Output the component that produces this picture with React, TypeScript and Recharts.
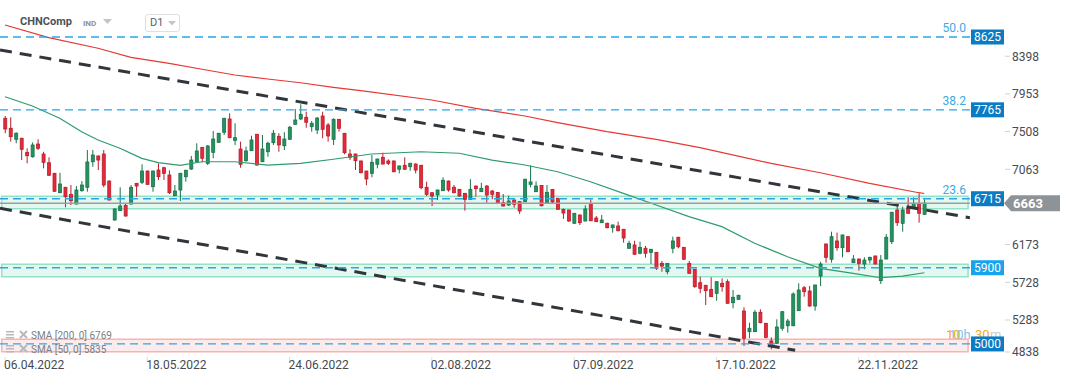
import React from "react";
import {
  ComposedChart,
  Bar,
  Line,
  XAxis,
  YAxis,
  ReferenceLine,
  ReferenceArea,
} from "recharts";

const W = 1072;
const H = 382;

const GREEN = "#25935f";
const GREEN_EDGE = "#17724a";
const RED = "#e52b3a";
const RED_EDGE = "#b81d2b";
const SMA200_COLOR = "#e53935";
const SMA50_COLOR = "#2e9c6c";
const FIB_BLUE = "#2aa7e8";
const TAG_DARK = "#0b7cc4";
const TAG_LIGHT = "#18a4ec";

// o, h, l, c per daily bar
const ohlc: [number, number, number, number][] = [
  [7665, 7692, 7488, 7538], [7547, 7677, 7389, 7448], [7417, 7500, 7370, 7488], [7429, 7435, 7172, 7299],
  [7263, 7311, 7133, 7223], [7211, 7381, 7200, 7350], [7361, 7417, 7290, 7311], [7243, 7270, 7074, 7145],
  [7140, 7204, 6985, 6992], [7015, 7020, 6795, 6803], [6786, 7022, 6780, 6889], [6850, 6855, 6614, 6739],
  [6767, 6877, 6641, 6692], [6653, 6865, 6645, 6818], [6810, 6924, 6798, 6877], [6850, 7290, 6798, 7149],
  [7152, 7290, 7093, 7231], [7220, 7225, 7054, 7172], [7243, 7290, 6850, 6877], [6924, 6930, 6695, 6700],
  [6464, 6600, 6455, 6594], [6574, 6850, 6570, 6629], [6637, 6653, 6503, 6511], [6653, 6877, 6645, 6850],
  [6897, 6900, 6739, 6865], [6909, 7122, 6889, 7042], [7042, 7048, 6880, 6885], [6857, 7048, 6798, 7042],
  [7054, 7133, 6936, 6975], [7081, 7093, 6936, 7015], [6995, 7051, 6771, 6786], [6751, 6877, 6745, 6806],
  [6818, 7020, 6688, 7015], [6975, 7056, 6916, 7051], [7066, 7220, 7054, 7172], [7152, 7370, 7150, 7279],
  [7322, 7325, 7145, 7193], [7133, 7350, 7113, 7338], [7263, 7515, 7193, 7420], [7381, 7492, 7378, 7488],
  [7500, 7670, 7468, 7665], [7657, 7724, 7429, 7436], [7405, 7606, 7350, 7436], [7302, 7389, 7081, 7122],
  [7164, 7330, 7152, 7279], [7282, 7459, 7279, 7409], [7476, 7480, 7105, 7113], [7152, 7468, 7150, 7302],
  [7270, 7389, 7211, 7370], [7377, 7527, 7350, 7488], [7452, 7488, 7270, 7350], [7341, 7500, 7290, 7420],
  [7417, 7574, 7410, 7559], [7594, 7775, 7590, 7645], [7657, 7830, 7645, 7712], [7677, 7743, 7554, 7618],
  [7566, 7633, 7507, 7606], [7527, 7680, 7479, 7668], [7692, 7743, 7429, 7535], [7586, 7609, 7389, 7456],
  [7417, 7665, 7350, 7653], [7653, 7657, 7507, 7547], [7488, 7490, 7240, 7259], [7243, 7299, 7172, 7204],
  [7243, 7248, 7054, 7164], [7161, 7165, 7015, 7022], [7042, 7045, 6874, 6948], [7015, 7231, 6968, 7145],
  [7122, 7188, 7074, 7184], [7204, 7259, 7120, 7125], [7161, 7181, 7113, 7133], [7161, 7165, 7027, 7034],
  [7063, 7106, 7015, 7102], [7110, 7204, 7060, 7063], [7093, 7140, 7046, 7133], [7125, 7133, 7015, 7054],
  [7110, 7115, 6826, 6845], [6850, 6916, 6747, 6767], [6786, 6790, 6629, 6747], [6759, 6822, 6700, 6818],
  [6810, 6968, 6805, 6933], [6924, 6930, 6798, 6818], [6850, 6877, 6779, 6786], [6826, 6830, 6739, 6747],
  [6779, 6783, 6574, 6708], [6708, 6945, 6700, 6826], [6865, 6870, 6739, 6834], [6798, 6904, 6795, 6838],
  [6865, 6877, 6668, 6759], [6806, 6818, 6708, 6767], [6789, 6795, 6653, 6661], [6668, 6771, 6625, 6629],
  [6641, 6753, 6629, 6688], [6700, 6708, 6609, 6650], [6680, 6685, 6535, 6570], [6680, 6950, 6675, 6945],
  [6885, 7110, 6850, 6913], [6798, 6919, 6795, 6865], [6871, 6877, 6625, 6632], [6668, 6877, 6660, 6791],
  [6824, 6826, 6653, 6676], [6720, 6725, 6585, 6590], [6588, 6600, 6476, 6546], [6582, 6585, 6440, 6452],
  [6425, 6547, 6420, 6543], [6523, 6527, 6405, 6432], [6452, 6637, 6448, 6594], [6659, 6708, 6450, 6455],
  [6487, 6511, 6440, 6444], [6432, 6523, 6428, 6464], [6425, 6432, 6366, 6373], [6373, 6410, 6314, 6405],
  [6393, 6444, 6330, 6337], [6354, 6358, 6196, 6251], [6130, 6219, 6125, 6189], [6169, 6219, 6055, 6059],
  [6071, 6208, 6059, 6141], [6130, 6157, 6019, 6071], [6082, 6122, 5944, 6118], [6082, 6086, 5873, 5893],
  [5952, 5980, 5853, 5920], [5853, 5956, 5822, 5952], [6130, 6267, 6071, 6216], [6260, 6265, 6130, 6148],
  [6141, 6145, 5995, 6000], [5952, 5980, 5830, 5834], [5882, 5886, 5664, 5676], [5723, 5794, 5598, 5657],
  [5693, 5697, 5460, 5629], [5645, 5787, 5555, 5558], [5598, 5740, 5511, 5735], [5716, 5775, 5617, 5676],
  [5735, 5763, 5475, 5480], [5487, 5637, 5421, 5551], [5527, 5580, 5520, 5575], [5389, 5433, 4976, 5067],
  [5145, 5251, 5067, 5185], [5145, 5401, 5140, 5374], [5374, 5409, 5245, 5251], [5244, 5248, 5067, 5078],
  [5035, 5078, 4937, 4976], [5008, 5291, 5000, 5200], [5185, 5385, 5156, 5381], [5215, 5295, 5133, 5271],
  [5215, 5610, 5210, 5590], [5393, 5716, 5390, 5637], [5664, 5684, 5558, 5617], [5625, 5684, 5440, 5448],
  [5448, 5700, 5393, 5696], [5802, 5971, 5684, 5944], [6180, 6185, 5960, 6023], [6000, 6326, 5960, 6267],
  [6216, 6314, 6101, 6137], [6137, 6290, 6023, 6287], [6267, 6272, 6085, 6089], [5960, 6050, 5955, 6003],
  [6003, 6008, 5865, 5952], [5944, 6023, 5882, 5991], [5991, 6030, 5952, 6023], [6039, 6042, 5940, 5944],
  [5747, 6050, 5708, 5991], [6003, 6298, 6000, 6260], [6208, 6560, 6180, 6555], [6582, 6629, 6393, 6432],
  [6425, 6621, 6326, 6582], [6602, 6732, 6540, 6543], [6614, 6732, 6610, 6661], [6661, 6779, 6432, 6543],
  [6531, 6708, 6525, 6663],
];

// moving averages read at some bars: [bar index, value]
const sma200: [number, number][] = [
  [0, 8767], [8, 8617], [17, 8492], [23, 8385], [30, 8314], [36, 8244], [42, 8176], [48, 8129],
  [54, 8085], [60, 8031], [65, 7991], [78, 7881], [86, 7783], [95, 7692], [101, 7613], [110, 7507],
  [119, 7417], [127, 7318], [140, 7133], [149, 7022], [158, 6897], [167, 6786], [168, 6777],
];
const sma50: [number, number][] = [
  [0, 7920], [5, 7810], [10, 7665], [14, 7507], [17, 7409], [21, 7311], [25, 7192], [28, 7141],
  [32, 7110], [36, 7152], [42, 7152], [48, 7113], [54, 7133], [60, 7181], [67, 7243], [76, 7270],
  [83, 7252], [89, 7172], [95, 7113], [101, 7034], [107, 6916], [113, 6779], [119, 6641], [125, 6503],
  [131, 6385], [137, 6189], [143, 6030], [149, 5893], [155, 5834], [160, 5782], [164, 5802], [168, 5841],
];

const xTickBars = [0, 26, 52, 78, 104, 130, 156];
const xTickLabels = ["06.04.2022", "18.05.2022", "24.06.2022", "02.08.2022", "07.09.2022", "17.10.2022", "22.11.2022"];
const yTicks = [4838, 5283, 5728, 6173, 7063, 7508, 7953, 8398];

const levels = [
  { value: 8625, tag: "8625", fib: "50.0", color: TAG_DARK },
  { value: 7765, tag: "7765", fib: "38.2", color: TAG_DARK },
  { value: 6715, tag: "6715", fib: "23.6", color: TAG_DARK },
  { value: 5900, tag: "5900", fib: "", color: TAG_LIGHT },
  { value: 5000, tag: "5000", fib: "", color: TAG_DARK },
];
const zones = [
  { from: 6597, to: 6745, kind: "green" },
  { from: 5795, to: 5941, kind: "green" },
  { from: 4908, to: 5055, kind: "red" },
];
// channel lines, [bar index, value] end points
const channelUpper: [number, number][] = [[-0.914, 8471], [176.35, 6491]];
const channelLower: [number, number][] = [[-0.914, 6602], [144.4, 4925]];
const lastPrice = 6663;

const X_DOMAIN: [number, number] = [-0.914, 176.35];
const Y_DOMAIN: [number, number] = [4834, 9003];

type Row = {
  i: number;
  o: number;
  h: number;
  l: number;
  c: number;
  range: [number, number];
  sma200?: number;
  sma50?: number;
};

const rows: Row[] = ohlc.map(([o, h, l, c], i) => ({ i, o, h, l, c, range: [l, h] }));
sma200.forEach(([i, v]) => (rows[i].sma200 = v));
sma50.forEach(([i, v]) => (rows[i].sma50 = v));

function Candle(props: any) {
  const { x, y, width, height, payload } = props;
  if (!payload || height == null) return null;
  const { o, h, l, c } = payload as Row;
  const up = c >= o;
  const k = h === l ? 0 : height / (h - l);
  const yO = y + (h - o) * k;
  const yC = y + (h - c) * k;
  const top = Math.min(yO, yC);
  const bh = Math.max(1, Math.abs(yO - yC));
  const cx = x + width / 2;
  return (
    <g>
      <line x1={cx} x2={cx} y1={y} y2={y + height} stroke={up ? GREEN_EDGE : RED_EDGE} strokeWidth={1} />
      <rect
        x={x + 0.5}
        y={top}
        width={width - 1}
        height={bh}
        fill={up ? GREEN : RED}
        stroke={up ? GREEN_EDGE : RED_EDGE}
        strokeWidth={0.8}
      />
    </g>
  );
}

function XTick({ x, payload }: any) {
  const idx = xTickBars.indexOf(payload.value);
  return (
    <g>
      <line x1={x} x2={x} y1={357} y2={361} stroke="#dcdcdc" />
      <text x={x - 1} y={369} fontSize={12} fill="#444a50" fontFamily="Roboto">
        {xTickLabels[idx]}
      </text>
    </g>
  );
}

function YTick({ y, payload }: any) {
  const ty = Math.min(y, 352);
  return (
    <g>
      <line x1={1005} x2={1010} y1={ty} y2={ty} stroke="#cfd2d6" />
      <text x={1012} y={ty + 4.3} fontSize={12} fill="#474c52" fontFamily="Roboto">
        {payload.value}
      </text>
    </g>
  );
}

function LevelTag({ viewBox, tag, fib, color }: any) {
  if (!viewBox) return null;
  const { x, y, width } = viewBox;
  const bx = x + width + 1;
  return (
    <g>
      {fib ? (
        <text x={x + width - 4} y={y - 5} textAnchor="end" fontSize={12} fill="#3aa9e4" fontFamily="Roboto">
          {fib}
        </text>
      ) : null}
      <rect x={bx} y={y - 7.5} width={33} height={15} fill={color} />
      <text x={bx + 16.5} y={y + 4.4} textAnchor="middle" fontSize={12} fill="#ffffff" fontFamily="Roboto">
        {tag}
      </text>
    </g>
  );
}

function PriceTag({ viewBox }: any) {
  if (!viewBox) return null;
  const { y } = viewBox;
  return (
    <g>
      <path d={`M1004 ${y} L1011 ${y - 8} L1060 ${y - 8} L1060 ${y + 8} L1011 ${y + 8} Z`} fill="#8d9396" />
      <text x={1013} y={y + 4.6} fontSize={13} fontWeight={700} fill="#ffffff" fontFamily="Roboto">
        {lastPrice}
      </text>
    </g>
  );
}

function Header() {
  return (
    <div style={{ position: "absolute", left: 0, top: 0, width: W, height: H, fontFamily: "Roboto", pointerEvents: "none", zIndex: 2 }}>
      <span style={{ position: "absolute", left: 20, top: 15, fontSize: 11, fontWeight: 700, color: "#4b5259" }}>CHNComp</span>
      <span style={{ position: "absolute", left: 83, top: 19, fontSize: 8, fontWeight: 700, color: "#8a9199" }}>IND</span>
      <svg style={{ position: "absolute", left: 103, top: 19 }} width={9} height={6}>
        <path d="M0 0 L9 0 L4.5 5 Z" fill="#c2c6ca" />
      </svg>
      <div
        style={{
          position: "absolute",
          left: 145,
          top: 14,
          width: 33,
          height: 16,
          border: "1px solid #dde0e3",
          borderRadius: 3,
          background: "#fff",
        }}
      >
        <span style={{ position: "absolute", left: 4, top: 1, fontSize: 11, color: "#5a6068" }}>D1</span>
        <svg style={{ position: "absolute", left: 22, top: 6 }} width={8} height={5}>
          <path d="M0 0 L8 0 L4 4.5 Z" fill="#c2c6ca" />
        </svg>
      </div>
      {[
        { text: "SMA [200,  0] 6769", top: 329 },
        { text: "SMA [50,  0] 5835", top: 343 },
      ].map((s) => (
        <div key={s.text} style={{ position: "absolute", left: 6, top: s.top, height: 12, display: "flex", alignItems: "center" }}>
          <svg width={24} height={10}>
            <rect x={0} y={1} width={8} height={1.5} fill="#b5b9bd" />
            <rect x={0} y={4} width={8} height={1.5} fill="#b5b9bd" />
            <rect x={0} y={7} width={8} height={1.5} fill="#b5b9bd" />
            <path d="M14 1 L21 8 M21 1 L14 8" stroke="#b5b9bd" strokeWidth={2} />
          </svg>
          <span style={{ marginLeft: 1, fontSize: 10, color: "#7a7f85" }}>{s.text}</span>
        </div>
      ))}
    </div>
  );
}

function Countdown() {
  return (
    <div style={{ position: "absolute", left: 0, top: 0, width: W, height: H, fontFamily: "Roboto", zIndex: 0 }}>
      <span style={{ position: "absolute", left: 946, top: 327, fontSize: 13, color: "#f5a623" }}>10</span>
      <span style={{ position: "absolute", left: 949, top: 327, fontSize: 13, color: "#7cc4ef" }}>10h</span>
      <span style={{ position: "absolute", left: 975, top: 327, fontSize: 13, color: "#f5a623" }}>30</span>
      <span style={{ position: "absolute", left: 990, top: 327, fontSize: 13, color: "#c8cbce" }}>m</span>
    </div>
  );
}

export default function App() {
  return (
    <div style={{ position: "absolute", left: 0, top: 0, width: W, height: H, background: "#ffffff", overflow: "hidden" }}>
      <Countdown />
      <div style={{ position: "absolute", left: 0, top: 0, zIndex: 1 }}>
        <ComposedChart width={W} height={H} data={rows} margin={{ top: 5, right: 0, bottom: 0, left: 0 }}>
          <XAxis
            dataKey="i"
            type="number"
            domain={X_DOMAIN}
            allowDataOverflow
            ticks={xTickBars}
            interval={0}
            height={24}
            axisLine={false}
            tickLine={false}
            tick={<XTick />}
          />
          <YAxis
            orientation="right"
            type="number"
            domain={Y_DOMAIN}
            allowDataOverflow
            ticks={yTicks}
            interval={0}
            width={102}
            axisLine={false}
            tickLine={false}
            tick={<YTick />}
          />
          <Bar dataKey="range" barSize={4} shape={<Candle />} isAnimationActive={false} />
          <Line
            dataKey="sma200"
            stroke={SMA200_COLOR}
            strokeWidth={1.2}
            dot={false}
            activeDot={false}
            connectNulls
            isAnimationActive={false}
          />
          <Line
            dataKey="sma50"
            stroke={SMA50_COLOR}
            strokeWidth={1.2}
            dot={false}
            activeDot={false}
            connectNulls
            isAnimationActive={false}
          />
          {[channelUpper, channelLower].map((seg, k) => (
            <ReferenceLine
              key={`ch${k}`}
              segment={seg.map(([x, y]) => ({ x, y }))}
              stroke="#30363b"
              strokeWidth={3}
              strokeDasharray="12 8"
              ifOverflow="hidden"
            />
          ))}
          {zones.map((z) => (
            <ReferenceArea
              key={`z${z.from}`}
              x1={-0.6}
              x2={176}
              y1={z.from}
              y2={z.to}
              fill={z.kind === "green" ? "#d4f3e7" : "#fcdede"}
              fillOpacity={0.62}
              stroke={z.kind === "green" ? "#92e3c7" : "#f5b4b4"}
              strokeWidth={1.5}
              strokeOpacity={1}
            />
          ))}
          <ReferenceLine y={lastPrice} stroke="#9a9ea2" strokeWidth={1.5} label={<PriceTag />} />
          {levels.map((lv) => (
            <ReferenceLine
              key={`lv${lv.value}`}
              y={lv.value}
              stroke={FIB_BLUE}
              strokeWidth={1.3}
              strokeDasharray="8 5"
              label={<LevelTag tag={lv.tag} fib={lv.fib} color={lv.color} />}
            />
          ))}
        </ComposedChart>
      </div>
      <Header />
    </div>
  );
}
